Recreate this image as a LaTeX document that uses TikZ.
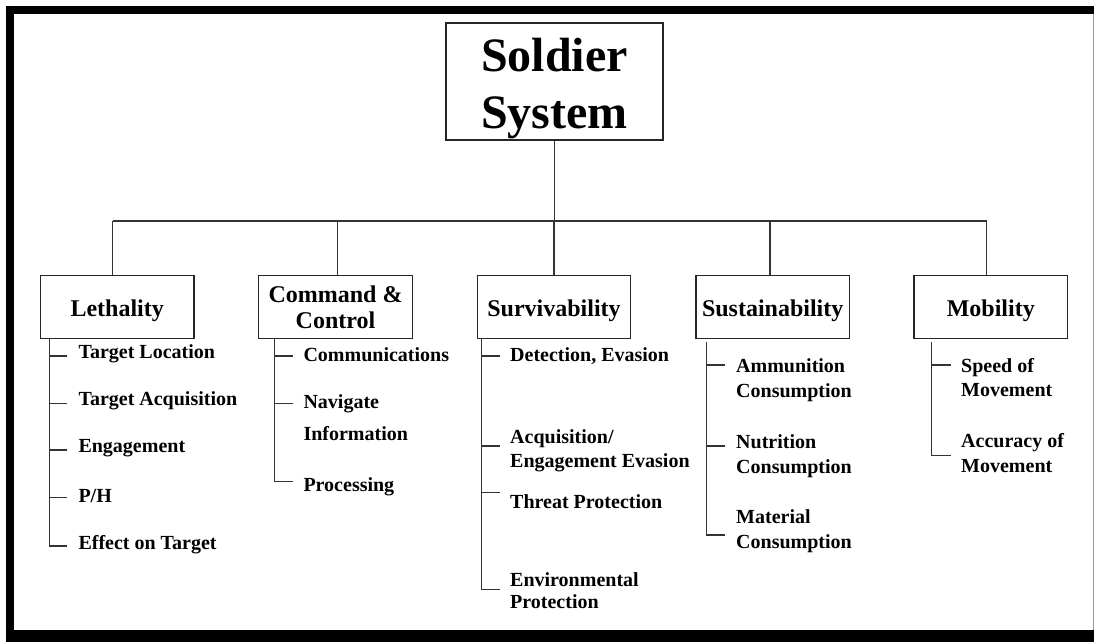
\documentclass[tikz,border=0pt]{standalone}
\usepackage{fontspec}
\setmainfont{Liberation Serif}
% lower a piece of text while keeping its declared height and depth
\newcommand\dropby[2]{\raisebox{-#1}[\height][\depth]{#2}}
% two stacked lines, baseline of the box = baseline of the first line
\newcommand\twolines[3]{\vtop{\baselineskip=#1\relax\hbox{#2}\hbox{#3}}}

\begin{document}
\begin{tikzpicture}[x=1pt,y=-1pt,
  rootbox/.style={draw=black!85, line width=1.2pt, minimum width=217pt,
    minimum height=117pt, inner sep=0pt, align=center,
    font=\fontsize{48}{57}\selectfont\bfseries},
  catbox/.style={draw=black!85, line width=1.2pt, minimum width=153.5pt,
    minimum height=63pt, inner sep=0pt, align=center,
    font=\fontsize{24}{26}\selectfont\bfseries},
  leaf/.style={anchor=base west, inner sep=0pt,
    font=\fontsize{20}{24}\selectfont\bfseries},
  wire/.style={draw=black!80, line width=1.1pt},
]
\useasboundingbox (0,0) rectangle (1094,642);

% outer frame
\fill[black] (6,6) rectangle (1094,14);
\fill[black] (6,6) rectangle (14,642);
\fill[black] (6,630) rectangle (1094,642);
\fill[black!40] (1092.5,14) rectangle (1094,630);

% top of the hierarchy
\node[rootbox] (root) at (554.5,81.5) {\dropby{7pt}{Soldier}\\\dropby{7pt}{System}};

% the five capability areas
\node[catbox] (leth) at (117.2,306.8) {\dropby{3.5pt}{Lethality}};
\node[catbox] (cmd)  at (335.5,306.8) {Command \&\\Control};
\node[catbox] (surv) at (554,306.8)   {\dropby{3.5pt}{Survivability}};
\node[catbox] (sust) at (772.7,306.8) {\dropby{3.5pt}{Sustainability}};
\node[catbox] (mob)  at (990.8,306.8) {\dropby{3.5pt}{Mobility}};

% distribution bus
\coordinate (busL) at (112.7,221);
\coordinate (busR) at (986.7,221);
\draw[wire] (busL) -- (busR);
\draw[wire] (root.south) -- (root.south |- busL);
\draw[wire] (busL) -- (busL |- leth.north);
\draw[wire] ([xshift=2.2pt]cmd.north) -- ([xshift=2.2pt]cmd.north |- busL);
\draw[wire] (surv.north) -- (surv.north |- busL);
\draw[wire] ([xshift=-2.7pt]sust.north) -- ([xshift=-2.7pt]sust.north |- busL);
\draw[wire] (busR) -- (busR |- mob.north);

% ---- Lethality
\node[leaf] (l1) at (78.3,358.3) {Target Location};
\node[leaf] (l2) at (78.3,405)   {Target Acquisition};
\node[leaf] (l3) at (78.3,452.5) {Engagement};
\node[leaf] (l4) at (78.3,502.3) {P/H};
\node[leaf] (l5) at (78.3,549.3) {Effect on Target};
\coordinate (lethroot) at ([xshift=9.55pt]leth.south west);
\coordinate (lt1) at (67,356);
\coordinate (lt2) at (67,403.3);
\coordinate (lt3) at (67,450);
\coordinate (lt4) at (67,497.3);
\coordinate (lt5) at (67,546);
\draw[wire] (lethroot) |- (lt5);
\foreach \c in {lt1,lt2,lt3,lt4} \draw[wire] (\c) -- (\c -| lethroot);

% ---- Command & Control
\node[leaf] (c1) at (303.3,361.7) {Communications};
\node[leaf] (c2) at (303.3,408.3) {\twolines{32.4pt}{Navigate}{Information}};
\node[leaf] (c3) at (303.3,491.7) {Processing};
\coordinate (cmdroot) at ([xshift=16.25pt]cmd.south west);
\coordinate (ct1) at (292.7,356);
\coordinate (ct2) at (292.7,403.3);
\coordinate (ct3) at (292.7,481.7);
\draw[wire] (cmdroot) |- (ct3);
\foreach \c in {ct1,ct2} \draw[wire] (\c) -- (\c -| cmdroot);

% ---- Survivability
\node[leaf] (s1) at (510,361.7) {Detection, Evasion};
\node[leaf] (s2) at (510,443)   {\twolines{24pt}{Acquisition/}{Engagement Evasion}};
\node[leaf] (s3) at (510,508.3) {Threat Protection};
\node[leaf] (s4) at (510,586)   {\twolines{22pt}{Environmental}{Protection}};
\coordinate (survroot) at ([xshift=4.45pt]surv.south west);
\coordinate (st1) at (500,356);
\coordinate (st2) at (500,446);
\coordinate (st3) at (500,492.7);
\coordinate (st4) at (500,589.3);
\draw[wire] (survroot) |- (st4);
\foreach \c in {st1,st2,st3} \draw[wire] (\c) -- (\c -| survroot);

% ---- Sustainability
\node[leaf] (u1) at (736,372.7) {\twolines{24.6pt}{Ammunition}{Consumption}};
\node[leaf] (u2) at (736,448.3) {\twolines{25pt}{Nutrition}{Consumption}};
\node[leaf] (u3) at (736,523.3) {\twolines{25pt}{Material}{Consumption}};
\coordinate (sustroot) at ([xshift=11.35pt,yshift=-3.4pt]sust.south west);
\coordinate (ut1) at (725,365);
\coordinate (ut2) at (725,446);
\coordinate (ut3) at (725,535);
\draw[wire] (sustroot) |- (ut3);
\foreach \c in {ut1,ut2} \draw[wire] (\c) -- (\c -| sustroot);

% ---- Mobility
\node[leaf] (m1) at (961,372.7) {\twolines{24pt}{Speed of}{Movement}};
\node[leaf] (m2) at (961,447.3) {\twolines{25pt}{Accuracy of}{Movement}};
\coordinate (mobroot) at ([xshift=18.25pt,yshift=-3.4pt]mob.south west);
\coordinate (mt1) at (950.7,365);
\coordinate (mt2) at (950.7,455.7);
\draw[wire] (mobroot) |- (mt2);
\draw[wire] (mt1) -- (mt1 -| mobroot);

\end{tikzpicture}
\end{document}
